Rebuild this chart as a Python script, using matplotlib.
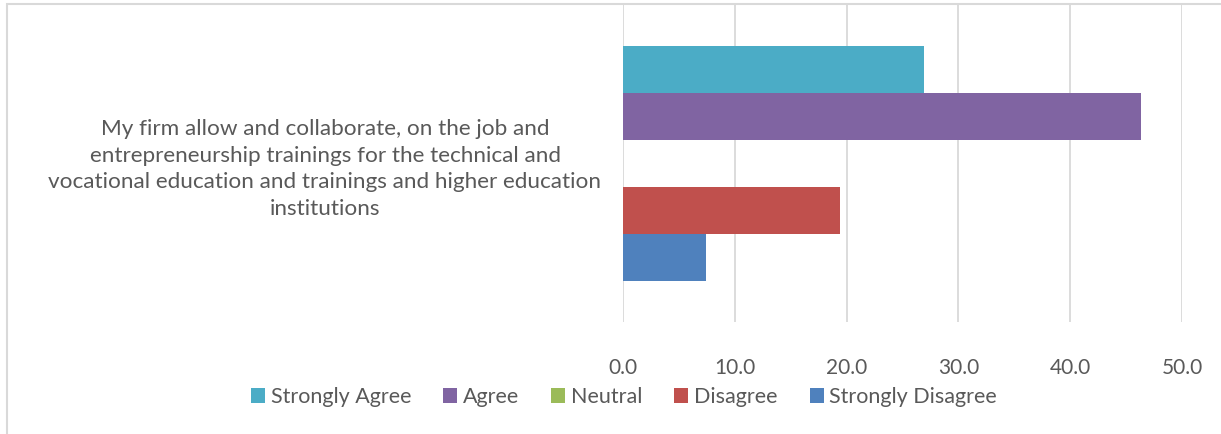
import matplotlib.pyplot as plt
from matplotlib.patches import Rectangle

categoria = ('My firm allow and collaborate, on the job and\n'
             'entrepreneurship trainings for the technical and\n'
             'vocational education and trainings and higher education\n'
             'institutions')
series = ['Strongly Agree', 'Agree', 'Neutral', 'Disagree', 'Strongly Disagree']
valores = [26.9, 46.3, 0.0, 19.4, 7.4]
cores = ['#4BACC6', '#8064A2', '#9BBB59', '#C0504D', '#4F81BD']
xticks = [0, 10, 20, 30, 40, 50]

plt.rcParams['font.family'] = ['Lato', 'DejaVu Sans']
cinza = '#595959'

fig = plt.figure(figsize=(12.21, 4.34), dpi=100)
ax = fig.add_axes([623 / 1221, 1 - 322 / 434, (1182 - 623) / 1221, (322 - 5) / 434])

# barras de cima para baixo, Strongly Agree no topo
for i, (nome, v, c) in enumerate(zip(series, valores, cores)):
    ax.barh(2 - i, v, height=1.0, color=c, label=nome)

ax.set_xlim(0, 50)
ax.set_ylim(-3.372, 3.372)
ax.set_xticks(xticks)
ax.set_xticklabels([f'{t:.1f}' for t in xticks], fontsize=15, color=cinza)
ax.set_yticks([])
ax.tick_params(axis='x', length=0, pad=26)
ax.grid(True, axis='x', color='#D9D9D9', linewidth=1.3)
ax.set_axisbelow(True)
for lado in ax.spines.values():
    lado.set_visible(False)

fig.text(325 / 1221, 1 - 169 / 434, categoria, ha='center', va='center',
         fontsize=16.2, color=cinza, linespacing=1.4)

fig.legend(loc='center', bbox_to_anchor=(624 / 1221, 1 - 397 / 434), ncol=5,
           frameon=False, fontsize=15.5, labelcolor=cinza,
           handlelength=0.65, handleheight=0.65, handletextpad=0.25,
           columnspacing=1.5, borderpad=0)

# borda cinza clara do gráfico
fig.patches.append(Rectangle((7 / 1221, -0.2), 1.2, 1.2 - 4 / 434,
                             transform=fig.transFigure, fill=False,
                             edgecolor='#D9D9D9', linewidth=1.5))

plt.savefig('out.png', dpi=100)
